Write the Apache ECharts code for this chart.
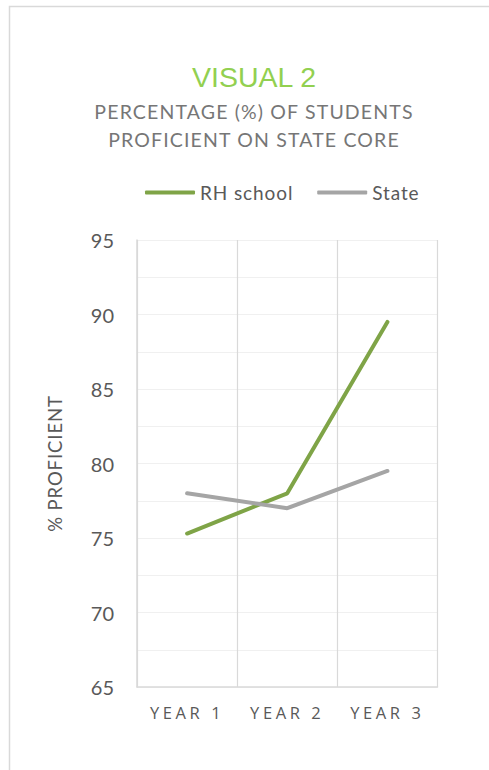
<!DOCTYPE html>
<html>
<head>
<meta charset="utf-8">
<script src="https://cdn.jsdelivr.net/npm/echarts@6/dist/echarts.min.js"></script>
<style>
html,body{margin:0;padding:0;background:#fff;}
#chart{width:489px;height:770px;}
</style>
</head>
<body>
<div id="chart"></div>
<script>
const categories = ['YEAR 1', 'YEAR 2', 'YEAR 3'];
const rhSchool = [75.3, 78.0, 89.5];
const stateVals = [78.0, 77.0, 79.5];
const seriesNames = ['RH school', 'State'];
const yMin = 65, yMax = 95, yStep = 5;
const titleText = 'VISUAL 2';
const subtitleLines = ['PERCENTAGE (%) OF STUDENTS', 'PROFICIENT ON STATE CORE'];
const yName = '% PROFICIENT';

const chart = echarts.init(document.getElementById('chart'), null, {renderer: 'svg'});
const font = "Lato, 'Open Sans', sans-serif";
chart.setOption({
  animation: false,
  backgroundColor: '#fff',
  graphic: [{
    type: 'rect', shape: {x: 9.5, y: 6.5, width: 600, height: 900},
    style: {fill: 'none', stroke: '#d9d9d9', lineWidth: 1.5}, silent: true
  }],
  title: [{
    text: titleText, left: 249, top: 57, textAlign: 'center',
    textStyle: {fontFamily: "'Liberation Sans Narrow', 'Liberation Sans', sans-serif", fontWeight: 'normal', fontSize: 28.5, color: '#92d050'}
  }, {
    text: subtitleLines.join('\n'), left: 249, top: 92, textAlign: 'center',
    textStyle: {fontFamily: font, fontWeight: 'normal', fontSize: 19.5, lineHeight: 28, color: '#767676'}
  }],
  legend: {
    top: 183, left: 145, padding: 0,
    itemWidth: 50, itemHeight: 4, itemGap: 32,
    icon: 'roundRect',
    textStyle: {fontFamily: font, fontSize: 19, color: '#595959'},
    data: seriesNames
  },
  grid: {left: 137, right: 51.5, top: 240, bottom: 83, containLabel: false},
  xAxis: {
    type: 'category', data: categories, boundaryGap: true,
    axisLine: {show: true, lineStyle: {color: '#d9d9d9', width: 1.5}},
    axisTick: {show: false},
    axisLabel: {fontFamily: "'Open Sans', sans-serif", fontSize: 16.5, color: '#595959', margin: 17},
    splitLine: {show: true, lineStyle: {color: '#d9d9d9', width: 1.2}}
  },
  yAxis: {
    type: 'value', min: yMin, max: yMax, interval: yStep,
    name: yName, nameLocation: 'middle', nameGap: 73, nameRotate: 90,
    nameTextStyle: {fontFamily: font, fontSize: 18.5, color: '#595959'},
    axisLine: {show: true, lineStyle: {color: '#d9d9d9', width: 1.5}},
    axisTick: {show: false},
    axisLabel: {fontFamily: font, fontSize: 20, color: '#595959', margin: 23},
    splitLine: {show: true, lineStyle: {color: '#f0f0f0', width: 1.2}},
    minorTick: {show: false, splitNumber: 2},
    minorSplitLine: {show: true, lineStyle: {color: '#f0f0f0', width: 1.2}}
  },
  series: [{
    name: seriesNames[0], type: 'line', data: rhSchool,
    symbol: 'none', lineStyle: {color: '#7fa447', width: 4, cap: 'round'},
    itemStyle: {color: '#7fa447'}
  }, {
    name: seriesNames[1], type: 'line', data: stateVals,
    symbol: 'none', lineStyle: {color: '#a5a5a5', width: 4, cap: 'round'},
    itemStyle: {color: '#a5a5a5'}
  }]
});

function applySpacing() {
  const map = {};
  categories.forEach(c => map[c] = '3.6px');
  subtitleLines.forEach(s => map[s] = '1.15px');
  seriesNames.forEach(s => map[s] = '0.9px');
  map[yName] = '0.9px';
  document.querySelectorAll('#chart svg text').forEach(t => {
    const key = t.textContent;
    if (map[key]) t.style.letterSpacing = map[key];
  });
}
chart.on('finished', applySpacing);
applySpacing();
setTimeout(applySpacing, 0);
setTimeout(applySpacing, 100);
</script>
</body>
</html>
